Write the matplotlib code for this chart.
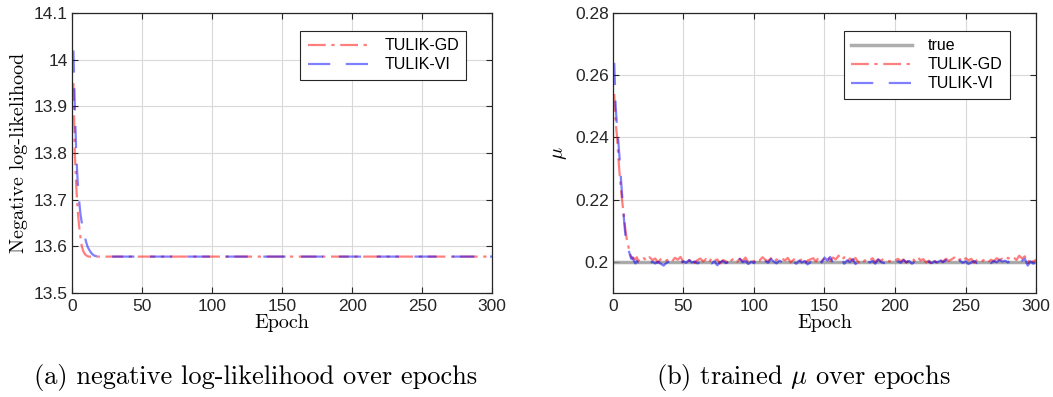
import matplotlib
matplotlib.use('Agg')
import matplotlib.pyplot as plt

plt.rcParams['font.family'] = ['Liberation Sans', 'DejaVu Sans']
plt.rcParams['mathtext.fontset'] = 'cm'

# negative log-likelihood (curve is flat after epoch 20)
nll_epochs = list(range(1, 21)) + [300]
nll_gd = [13.95, 13.80, 13.73, 13.68, 13.645, 13.62, 13.60, 13.59, 13.584, 13.581,
          13.579, 13.578, 13.578, 13.578, 13.578, 13.578, 13.578, 13.578, 13.578, 13.578,
          13.578]
nll_vi = [14.02, 13.90, 13.80, 13.74, 13.70, 13.67, 13.65, 13.635, 13.622, 13.61,
          13.60, 13.594, 13.589, 13.585, 13.582, 13.580, 13.579, 13.578, 13.578, 13.578,
          13.578]

# trained mu
mu_true = 0.2
mu_epochs = list(range(1, 21)) + list(range(22, 301, 2))
mu_gd = [0.254, 0.245, 0.240, 0.233, 0.227, 0.222, 0.218, 0.214, 0.210, 0.207,
         0.205, 0.203, 0.2015, 0.2010, 0.2012, 0.2008, 0.2015, 0.2002, 0.2010, 0.2005,
         0.2012, 0.2003, 0.2015, 0.2006, 0.2011, 0.1998, 0.2009, 0.2014, 0.2004, 0.2010,
         0.2002, 0.2013, 0.2007, 0.2016, 0.1999, 0.2008, 0.2003, 0.2012, 0.1996, 0.2006,
         0.2011, 0.2001, 0.2009, 0.1997, 0.2013, 0.2004, 0.2008, 0.1995, 0.2006, 0.2002,
         0.1992, 0.2005, 0.2012, 0.2000, 0.2010, 0.2003, 0.2014, 0.1998, 0.2006, 0.2001,
         0.2011, 0.2004, 0.2015, 0.2007, 0.2002, 0.2012, 0.1999, 0.2008, 0.2003, 0.2010,
         0.2005, 0.2013, 0.1998, 0.2007, 0.2011, 0.2002, 0.2009, 0.1996, 0.2004, 0.2008,
         0.2012, 0.2001, 0.2016, 0.2005, 0.2010, 0.2018, 0.2003, 0.2014, 0.2008, 0.2020,
         0.2006, 0.2015, 0.2000, 0.2011, 0.2004, 0.2013, 0.1998, 0.2009, 0.2002, 0.2010,
         0.2005, 0.2012, 0.1999, 0.2008, 0.2003, 0.2011, 0.2006, 0.2001, 0.2009, 0.2004,
         0.2010, 0.2002, 0.2008, 0.1997, 0.2006, 0.2012, 0.2003, 0.2016, 0.2005, 0.2009,
         0.1998, 0.2004, 0.1990, 0.2002, 0.1996, 0.2007, 0.2001, 0.2010, 0.2003, 0.2008,
         0.2014, 0.2002, 0.2009, 0.2000, 0.2012, 0.2005, 0.2010, 0.1997, 0.2006, 0.2011,
         0.2003, 0.2009, 0.1999, 0.2007, 0.2002, 0.2012, 0.2006, 0.2010, 0.2004, 0.2013,
         0.2008, 0.2015, 0.2006, 0.2020, 0.2011, 0.2018, 0.1996, 0.2012, 0.2001, 0.2007]
mu_vi = [0.264, 0.250, 0.243, 0.238, 0.232, 0.225, 0.219, 0.213, 0.208, 0.205,
         0.204, 0.2025, 0.2010, 0.2015, 0.2002, 0.1995, 0.2003, 0.1998, 0.2001, 0.1996,
         0.1998, 0.2002, 0.1993, 0.2001, 0.1995, 0.2000, 0.1994, 0.1988, 0.1997, 0.2001,
         0.1992, 0.1999, 0.2004, 0.1996, 0.2002, 0.1997, 0.2006, 0.1998, 0.2001, 0.1995,
         0.2000, 0.1991, 0.1998, 0.2004, 0.1995, 0.2002, 0.1989, 0.1999, 0.2003, 0.1996,
         0.2000, 0.1994, 0.2005, 0.1997, 0.2010, 0.1999, 0.2003, 0.1993, 0.2001, 0.1996,
         0.2008, 0.1998, 0.2012, 0.2003, 0.1997, 0.2009, 0.2001, 0.1995, 0.2004, 0.1999,
         0.2002, 0.1996, 0.2007, 0.2001, 0.1994, 0.2004, 0.1998, 0.2003, 0.1992, 0.1999,
         0.1989, 0.2003, 0.2011, 0.1998, 0.2014, 0.2004, 0.2016, 0.1997, 0.2008, 0.2001,
         0.2010, 0.1994, 0.2005, 0.1999, 0.2009, 0.1993, 0.2004, 0.2000, 0.1995, 0.2006,
         0.1998, 0.2003, 0.1994, 0.2008, 0.2000, 0.1996, 0.2004, 0.1999, 0.2005, 0.1995,
         0.2002, 0.1997, 0.2006, 0.1999, 0.2003, 0.1994, 0.2001, 0.1997, 0.2004, 0.2000,
         0.1995, 0.2001, 0.1996, 0.2002, 0.1998, 0.2004, 0.1999, 0.2006, 0.1997, 0.2003,
         0.1999, 0.1994, 0.2004, 0.1997, 0.2002, 0.1993, 0.1998, 0.2003, 0.1996, 0.2001,
         0.1997, 0.2005, 0.2000, 0.1996, 0.2003, 0.1999, 0.2006, 0.2001, 0.2004, 0.1998,
         0.2005, 0.2009, 0.2002, 0.2012, 0.2004, 0.2010, 0.1988, 0.2002, 0.1994, 0.2001]

# styles
gdcol = (1, 0, 0, 0.5)
vicol = (0, 0, 1, 0.5)
truecol = (0.6, 0.6, 0.6, 0.8)
gd_ls = (0, (8, 2.5, 1.5, 2.5))
vi_ls = (0, (10, 7))
lw = 1.6
tfs = 12.5
lfs = 11.5
labfs = 14.5


def style_axes(ax):
    ax.grid(True, color='0.85', linewidth=0.8)
    ax.set_axisbelow(True)
    ax.tick_params(direction='in', top=True, right=True, labelsize=tfs,
                   length=4, width=0.8, colors='0.15')
    ax.tick_params(axis='x', pad=4.5)
    ax.tick_params(axis='y', pad=3)
    for s in ax.spines.values():
        s.set_color('0.15')
        s.set_linewidth(0.9)
    ax.set_xlim(0, 300)
    ax.set_xticks(range(0, 301, 50))
    ax.set_xlabel('Epoch', family='cmr10', fontsize=labfs, labelpad=0)


def add_legend(ax):
    leg = ax.legend(loc='upper right', bbox_to_anchor=(0.957, 0.964),
                    fontsize=lfs, fancybox=False, framealpha=1,
                    edgecolor='0.15', handlelength=3.8, borderpad=0.45,
                    labelspacing=0.25, handletextpad=1.0)
    leg.get_frame().set_linewidth(0.8)


fig = plt.figure(figsize=(10.53, 3.97), dpi=100)

# (a) nll
ax1 = fig.add_axes([0.0684, 0.262, 0.399, 0.705])
ax1.plot(nll_epochs, nll_gd, color=gdcol, linestyle=gd_ls, linewidth=lw,
         label='TULIK-GD')
ax1.plot(nll_epochs, nll_vi, color=vicol, linestyle=vi_ls, linewidth=lw,
         label='TULIK-VI')
ax1.set_ylim(13.5, 14.1)
ax1.set_yticks([13.5, 13.6, 13.7, 13.8, 13.9, 14.0, 14.1])
ax1.set_yticklabels(['13.5', '13.6', '13.7', '13.8', '13.9', '14', '14.1'])
style_axes(ax1)
ax1.set_ylabel('Negative log-likelihood', family='cmr10', fontsize=labfs,
               labelpad=4)
add_legend(ax1)

# (b) mu
ax2 = fig.add_axes([0.582, 0.262, 0.402, 0.705])
ax2.axhline(mu_true, color=truecol, linewidth=2.5, label='true')
ax2.plot(mu_epochs, mu_gd, color=gdcol, linestyle=gd_ls, linewidth=lw,
         label='TULIK-GD')
ax2.plot(mu_epochs, mu_vi, color=vicol, linestyle=vi_ls, linewidth=lw,
         label='TULIK-VI')
ax2.set_ylim(0.19, 0.28)
ax2.set_yticks([0.2, 0.22, 0.24, 0.26, 0.28])
ax2.set_yticklabels(['0.2', '0.22', '0.24', '0.26', '0.28'])
style_axes(ax2)
ax2.set_ylabel(r'$\mu$', fontsize=labfs, labelpad=4)
add_legend(ax2)

# captions
fig.text(0.243, 0.050, '(a) negative log-likelihood over epochs', family='cmr10',
         fontsize=19, ha='center', va='center')
fig.text(0.7626, 0.050, r'(b) trained $\mu$ over epochs', family='cmr10',
         fontsize=19, ha='center', va='center')

fig.savefig('out.png', dpi=100)
